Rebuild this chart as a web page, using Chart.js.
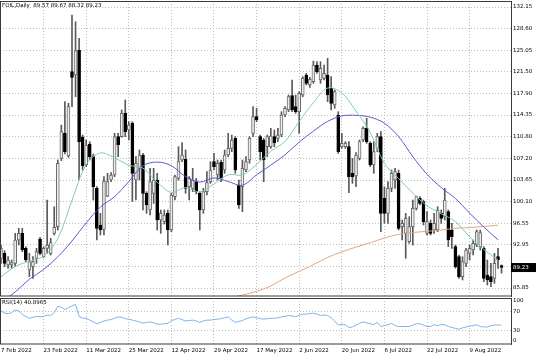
<!DOCTYPE html>
<html>
<head>
<meta charset="utf-8">
<script src="https://cdn.jsdelivr.net/npm/chart.js@4.4.0/dist/chart.umd.min.js"></script>
<style>
  html, body { margin: 0; padding: 0; background: #fff; }
  #wrap { position: relative; width: 536px; height: 360px; overflow: hidden; }
  #main { position: absolute; left: 0; top: 0; }
  #rsi { position: absolute; left: 0; top: 297px; }
</style>
</head>
<body>
<div id="wrap">
  <canvas id="main" width="536" height="297"></canvas>
  <canvas id="rsi" width="536" height="63"></canvas>
</div>
<script>
// daily candles, 7 Feb 2022 .. 19 Aug 2022 (one entry per bar)
const opens = [
  90.75, 91.57, 89.65, 89.65, 89.92, 93.76, 94.86, 92.39, 88.82, 89.37,
  90.75, 93.87, 91.02, 92.39, 91.57, 94.86, 95.96, 107.22, 111.34, 107.60,
  121.50, 120.95, 125.07, 110.68, 106.12, 109.58, 107.49, 102.28, 96.24, 95.52,
  101.00, 103.65, 104.47, 110.79, 110.79, 114.63, 111.89, 112.98, 103.65, 105.57,
  107.77, 101.45, 98.71, 101.45, 103.65, 97.06, 96.78, 98.16, 95.41, 100.90,
  103.92, 106.95, 107.06, 102.55, 102.28, 103.37, 101.45, 98.71, 101.73, 103.37,
  106.67, 104.47, 106.56, 105.30, 107.77, 108.87, 110.51, 102.83, 102.55, 105.30,
  106.95, 111.34, 114.08, 110.79, 110.24, 109.14, 109.14, 110.79, 110.51, 111.06,
  114.36, 115.18, 117.54, 115.73, 114.90, 117.65, 120.95, 119.30, 119.85, 122.59,
  120.12, 120.40, 120.95, 118.75, 116.00, 114.36, 109.14, 109.14, 109.14, 104.75,
  104.31, 107.22, 110.24, 112.16, 109.69, 106.12, 108.87, 110.79, 100.63, 98.16,
  102.28, 103.65, 104.75, 95.96, 94.86, 93.49, 95.96, 98.98, 100.63, 100.08,
  94.86, 96.51, 95.41, 95.41, 98.16, 97.61, 98.43, 95.41, 92.67, 91.02,
  87.73, 89.92, 91.57, 92.12, 92.94, 92.67, 92.39, 88.00, 87.73, 87.45,
  91.02, 89.57
];
const highs = [
  92.94, 92.01, 91.02, 90.47, 94.86, 95.69, 95.69, 92.67, 91.57, 91.02,
  92.39, 94.20, 92.67, 100.35, 94.04, 99.25, 106.95, 112.71, 116.55, 116.28,
  130.83, 129.73, 126.99, 111.06, 110.24, 109.96, 107.93, 102.55, 98.16, 104.20,
  104.75, 104.86, 111.34, 111.34, 115.18, 116.83, 113.26, 113.26, 107.49, 108.59,
  108.04, 101.73, 105.57, 105.57, 104.75, 98.71, 98.71, 98.71, 101.45, 104.47,
  109.14, 109.80, 108.59, 104.20, 105.57, 103.92, 101.73, 102.28, 105.02, 106.67,
  108.04, 106.95, 106.95, 108.59, 111.34, 111.06, 110.79, 103.65, 106.95, 107.49,
  110.79, 115.73, 115.46, 111.06, 110.51, 111.06, 112.16, 111.89, 112.16, 114.90,
  115.73, 117.65, 120.12, 117.65, 118.20, 120.67, 121.22, 120.56, 123.25, 123.14,
  123.14, 122.59, 123.69, 120.67, 118.47, 114.90, 111.34, 109.96, 109.96, 107.22,
  108.15, 110.24, 112.43, 113.81, 109.96, 109.96, 111.34, 111.61, 102.55, 103.37,
  105.30, 105.57, 105.30, 97.06, 98.16, 97.61, 100.35, 101.00, 100.90, 100.35,
  98.43, 97.06, 98.16, 99.25, 98.71, 102.28, 98.71, 96.51, 92.94, 91.29,
  91.02, 92.39, 92.94, 93.76, 95.41, 95.41, 92.67, 90.47, 89.92, 91.57,
  92.39, 89.67
];
const lows = [
  89.92, 89.37, 89.10, 89.10, 89.37, 92.94, 91.84, 90.19, 87.73, 87.45,
  89.92, 91.29, 90.90, 91.57, 91.29, 94.59, 95.41, 106.84, 107.93, 107.38,
  115.73, 117.38, 103.65, 105.30, 105.85, 106.95, 100.35, 93.76, 94.59, 94.59,
  100.90, 103.37, 104.20, 107.49, 110.68, 110.79, 110.24, 100.08, 100.35, 103.65,
  98.71, 98.16, 97.88, 99.80, 95.41, 94.86, 96.40, 92.94, 95.14, 100.35,
  103.65, 106.67, 101.45, 100.35, 101.73, 101.34, 95.41, 98.16, 101.18, 103.10,
  105.30, 103.65, 103.37, 104.75, 107.49, 108.32, 104.75, 98.98, 98.43, 105.02,
  106.40, 110.79, 113.26, 106.95, 103.37, 107.49, 108.87, 109.14, 109.96, 110.79,
  114.08, 114.90, 114.90, 114.63, 111.34, 117.38, 119.30, 118.92, 119.57, 121.22,
  119.57, 120.12, 116.55, 115.18, 115.46, 108.04, 108.87, 108.87, 101.56, 103.10,
  102.55, 106.95, 109.96, 109.69, 105.85, 104.75, 108.32, 95.14, 96.51, 96.51,
  101.73, 102.28, 95.41, 93.76, 90.75, 93.21, 92.94, 98.71, 99.53, 96.24,
  94.59, 94.59, 94.86, 95.14, 96.51, 97.06, 92.67, 92.39, 89.10, 87.45,
  87.18, 89.37, 90.47, 91.29, 92.67, 92.12, 86.90, 86.35, 86.08, 86.63,
  89.10, 88.32
];
const closes = [
  92.39, 89.92, 90.47, 90.03, 93.76, 94.86, 92.12, 90.47, 90.19, 90.19,
  91.84, 91.57, 92.39, 92.94, 93.33, 95.85, 106.40, 111.61, 108.32, 115.73,
  120.56, 124.96, 109.96, 105.96, 109.41, 107.49, 102.55, 95.69, 95.41, 103.37,
  103.37, 104.47, 110.79, 109.41, 114.63, 111.61, 112.71, 104.75, 106.40, 107.77,
  101.45, 99.53, 103.37, 103.65, 97.06, 98.16, 97.88, 95.41, 101.18, 104.20,
  106.67, 107.77, 102.28, 103.92, 103.65, 101.73, 98.71, 101.73, 103.21, 105.30,
  105.85, 106.40, 103.92, 107.77, 108.87, 110.24, 105.30, 99.53, 105.57, 106.67,
  110.51, 114.08, 113.53, 108.32, 106.95, 110.79, 110.90, 109.80, 111.06, 114.36,
  115.46, 117.38, 115.18, 114.90, 117.93, 120.40, 119.57, 120.23, 122.59, 121.50,
  122.05, 121.22, 117.65, 116.28, 118.20, 108.32, 109.69, 109.69, 104.20, 104.20,
  107.77, 109.96, 112.16, 109.96, 106.12, 108.32, 110.79, 98.16, 98.16, 102.28,
  104.75, 105.02, 95.69, 96.51, 97.33, 95.96, 98.98, 100.90, 99.80, 96.78,
  96.78, 94.86, 96.51, 98.71, 97.33, 100.35, 93.76, 94.31, 89.37, 87.73,
  90.19, 92.12, 92.39, 93.21, 95.14, 94.97, 87.45, 87.18, 86.90, 89.92,
  90.47, 89.23
];

// moving averages, read every 4 bars
const maBars = [0, 4, 8, 12, 16, 20, 24, 28, 32, 36, 40, 44, 48, 52, 56, 60, 64, 68,
  72, 76, 80, 84, 88, 92, 96, 100, 104, 108, 112, 116, 120, 124, 128, 132, 136, 140];
const maFast = [87.7, 89.4, 90.3, 91.1, 94.0, 100.3, 106.2, 108.1, 107.3, 106.1, 105.6, 103.3,
  101.6, 102.4, 101.7, 103.0, 104.5, 104.5, 106.2, 108.4, 110.0, 113.3, 116.4, 118.8,
  118.0, 115.0, 111.5, 106.4, 103.9, 101.5, 99.4, 98.1, 96.8, 94.3, 92.2, 90.5];
const maSlow = [83.5, 85.2, 87.3, 88.9, 91.0, 93.6, 96.6, 99.2, 100.9, 103.4, 106.0, 106.6,
  106.0, 104.2, 103.3, 104.0, 103.4, 102.8, 104.5, 106.1, 107.8, 109.9, 111.7, 113.3,
  114.2, 114.3, 114.0, 113.0, 110.8, 107.5, 104.6, 102.4, 100.6, 98.2, 95.9, 93.8];
const maLongBars = [56, 60, 64, 68, 72, 76, 80, 84, 88, 92, 96, 100, 104, 108, 112, 116, 120,
  124, 128, 132, 136, 140];
const maLong = [82.4, 83.1, 84.1, 84.7, 85.3, 86.2, 87.5, 88.6, 89.7, 90.9, 91.8, 92.6, 93.3,
  94.1, 94.7, 95.0, 95.2, 95.4, 95.7, 95.8, 96.0, 96.2];

// RSI(14), one per bar
const rsiValues = [
  72, 67, 66, 68, 74, 72, 64, 60, 56, 58, 60, 59, 60, 63, 62, 68, 82, 80, 75, 79,
  83, 86, 60, 56, 56, 52, 48, 44, 47, 50, 52, 53, 56, 59, 58, 55, 54, 52, 50, 48,
  45, 47, 48, 46, 43, 43, 44, 45, 51, 53, 56, 53, 50, 51, 52, 50, 47, 50, 52, 52,
  53, 54, 55, 57, 59, 52, 47, 49, 51, 55, 57, 59, 57, 55, 54, 55, 56, 56, 57, 59,
  60, 62, 61, 59, 63, 65, 65, 66, 67, 65, 62, 63, 62, 57, 50, 41, 43, 42, 36, 37,
  41, 45, 48, 46, 44, 42, 47, 38, 40, 42, 45, 40, 38, 38, 38, 38, 41, 44, 44, 41,
  38, 38, 42, 40, 42, 42, 38, 36, 34, 32, 35, 37, 39, 40, 42, 38, 37, 37, 40, 41,
  41.5, 40.8965
];

// axis labels
const tickBars = [0, 12, 24, 36, 48, 60, 72, 84, 96, 108, 120, 132];
const dateLabels = ['7 Feb 2022', '23 Feb 2022', '11 Mar 2022', '25 Mar 2022', '12 Apr 2022',
  '29 Apr 2022', '17 May 2022', '2 Jun 2022', '20 Jun 2022', '6 Jul 2022', '22 Jul 2022', '9 Aug 2022'];
const priceTicks = [132.15, 128.60, 125.05, 121.50, 117.90, 114.35, 110.80, 107.20, 103.65,
  100.10, 96.55, 92.95, 89.40, 85.85];
const rsiLabels = ['100', '70', '30', '0'];

Chart.defaults.font.family = 'DejaVu Sans';
Chart.defaults.font.size = 5.5;
Chart.defaults.color = '#000';
Chart.defaults.animation = false;

const gridColor = '#bdbdbd';
const xRange = { min: -0.28, max: 143.66 };

// frame, title and price tag
const overlay = {
  id: 'overlay',
  afterDraw(chart, args, opts) {
    const { ctx, chartArea: a } = chart;
    ctx.save();
    ctx.strokeStyle = '#3a3a3a';
    ctx.lineWidth = 1;
    ctx.strokeRect(a.left + 0.5, a.top + 0.5, a.right - a.left, a.bottom - a.top - 0.5);
    ctx.font = '5.5px "DejaVu Sans"';
    ctx.textBaseline = 'middle';
    ctx.fillStyle = '#000';
    ctx.fillText(opts.title, a.left + 2, a.top + 5);
    if (opts.lastPrice != null) {
      const y = chart.scales.y.getPixelForValue(opts.lastPrice);
      ctx.fillRect(a.right, y - 4.5, 25, 9);
      ctx.fillStyle = '#fff';
      ctx.fillText(opts.lastPrice.toFixed(2), a.right + 2, y + 0.5);
    }
    ctx.restore();
  }
};

const noPad = s => { s.paddingTop = 0; s.paddingBottom = 0; s.paddingLeft = 0; s.paddingRight = 0; };

const isUp = i => closes[i] >= opens[i];

new Chart(document.getElementById('main'), {
  data: {
    datasets: [
      {
        type: 'line', order: 0, label: 'MA fast',
        data: maBars.map((b, k) => ({ x: b, y: maFast[k] })),
        borderColor: '#7fcdab', borderWidth: 1, pointRadius: 0, tension: 0.35
      },
      {
        type: 'line', order: 0, label: 'MA slow',
        data: maBars.map((b, k) => ({ x: b, y: maSlow[k] })),
        borderColor: '#5f58cf', borderWidth: 1, pointRadius: 0, tension: 0.35
      },
      {
        type: 'line', order: 0, label: 'MA long',
        data: maLongBars.map((b, k) => ({ x: b, y: maLong[k] })),
        borderColor: '#e6a67c', borderWidth: 1, pointRadius: 0, tension: 0.35
      },
      {
        type: 'bar', order: 1, label: 'body',
        data: opens.map((o, i) => ({ x: i, y: [Math.min(o, closes[i]), Math.max(o, closes[i])] })),
        backgroundColor: opens.map((o, i) => isUp(i) ? '#eeeeee' : '#000000'),
        borderColor: opens.map((o, i) => isUp(i) ? '#6a6a6a' : '#000000'),
        borderWidth: 1, borderSkipped: false, barThickness: 3, grouped: false, minBarLength: 1
      },
      {
        type: 'bar', order: 2, label: 'wick',
        data: highs.map((h, i) => ({ x: i, y: [lows[i], h] })),
        backgroundColor: '#5a5a5a', borderWidth: 0, barThickness: 1, grouped: false
      }
    ]
  },
  options: {
    responsive: false,
    layout: { padding: { left: 0, right: 0, top: 1, bottom: 1 } },
    plugins: {
      legend: { display: false },
      tooltip: { enabled: false },
      overlay: { title: 'FOIL,Daily  89.57 89.67 88.32 89.23', lastPrice: closes[closes.length - 1] }
    },
    scales: {
      x: {
        type: 'linear', min: xRange.min, max: xRange.max, offset: false,
        afterBuildTicks: s => { s.ticks = tickBars.map(v => ({ value: v })); },
        afterFit: s => { s.height = 0; noPad(s); },
        ticks: { display: false },
        grid: { color: gridColor, drawTicks: false, offset: false },
        border: { display: false, dash: [1, 2] }
      },
      y: {
        position: 'right', min: 84.54, max: 133.14,
        afterBuildTicks: s => { s.ticks = priceTicks.map(v => ({ value: v })); },
        afterFit: s => { s.width = 25; noPad(s); },
        ticks: { padding: 2, autoSkip: false, callback: v => v.toFixed(2) },
        grid: { color: gridColor, drawTicks: false },
        border: { display: true, color: '#4a4a4a', width: 1, dash: [1, 2] }
      }
    }
  },
  plugins: [overlay]
});

// RSI window; the 100 and 0 labels sit a little inside the panel, as in the terminal
const rsiTickPos = [93.5, 70, 30, 6.5];

new Chart(document.getElementById('rsi'), {
  type: 'line',
  data: {
    datasets: [{
      label: 'RSI(14)',
      data: rsiValues.map((v, i) => ({ x: i, y: v })),
      borderColor: '#7db4ea', borderWidth: 1, pointRadius: 0, tension: 0
    }]
  },
  options: {
    responsive: false,
    layout: { padding: { left: 0, right: 0, top: 1, bottom: 0 } },
    plugins: {
      legend: { display: false },
      tooltip: { enabled: false },
      overlay: { title: 'RSI(14) 40.8965' }
    },
    scales: {
      x: {
        type: 'linear', min: xRange.min, max: xRange.max, offset: false,
        afterBuildTicks: s => { s.ticks = tickBars.map(v => ({ value: v })); },
        afterFit: s => { s.height = 16; noPad(s); },
        ticks: { align: 'start', padding: 3, maxRotation: 0, autoSkip: false,
          callback: (v, i) => dateLabels[i] },
        grid: { color: gridColor, drawTicks: false },
        border: { display: false, dash: [1, 2] }
      },
      y: {
        position: 'right', min: 0, max: 100,
        afterBuildTicks: s => { s.ticks = rsiTickPos.map(v => ({ value: v })); },
        afterFit: s => { s.width = 25; noPad(s); },
        ticks: { padding: 2, autoSkip: false, callback: (v, i) => rsiLabels[i] },
        grid: { color: ctx => (ctx.index === 1 || ctx.index === 2) ? gridColor : 'rgba(0,0,0,0)', drawTicks: false },
        border: { display: true, color: '#4a4a4a', width: 1, dash: [1, 2] }
      }
    }
  },
  plugins: [overlay]
});
</script>
</body>
</html>
